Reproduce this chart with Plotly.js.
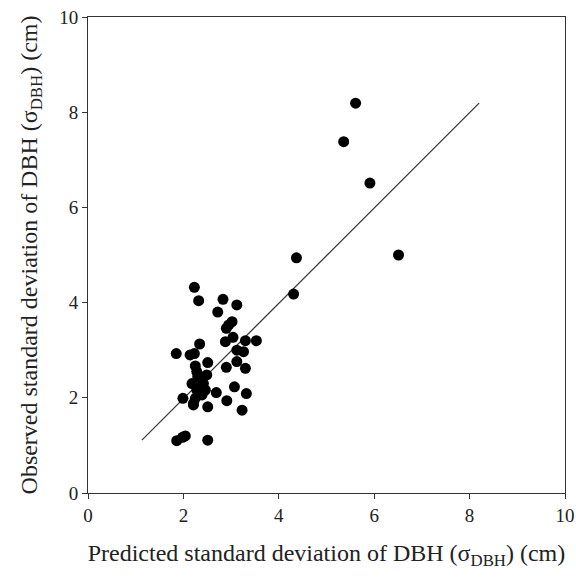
<!DOCTYPE html>
<html>
<head>
<meta charset="utf-8">
<script src="https://cdn.plot.ly/plotly-3.0.1.min.js"></script>
<style>html,body{margin:0;padding:0;background:#fff;}#chart{width:576px;height:579px;}</style>
</head>
<body>
<div id="chart"></div>
<script>
// Predicted vs observed standard deviation of DBH (cm)
const predicted = [5.61,5.36,5.91,6.51,4.37,4.31,
  2.23,2.32,2.83,3.12,2.72,3.02,2.95,2.90,2.34,2.88,3.04,3.30,3.53,3.12,3.26,
  1.85,2.14,2.23,2.51,2.25,2.90,3.12,3.30,
  2.28,2.49,2.39,2.18,2.42,2.28,2.46,2.39,2.25,2.21,2.30,2.33,
  1.99,2.69,3.07,3.32,2.91,2.51,3.23,2.21,
  1.86,2.04,1.98,2.51];
const observed = [8.19,7.38,6.51,5.00,4.94,4.18,
  4.32,4.04,4.07,3.95,3.80,3.60,3.53,3.46,3.13,3.18,3.27,3.20,3.20,3.00,2.97,
  2.93,2.90,2.93,2.74,2.67,2.64,2.76,2.62,
  2.55,2.48,2.41,2.30,2.30,2.16,2.16,2.06,1.99,1.88,2.45,2.22,
  1.99,2.11,2.23,2.09,1.94,1.81,1.74,1.85,
  1.10,1.20,1.17,1.11];
const fitX = [1.13, 8.20];
const fitY = [1.11, 8.19];
const xTicks = [0,2,4,6,8,10];
const yTicks = [0,2,4,6,8,10];

const font = "'Liberation Serif','Times New Roman',serif";
Plotly.newPlot('chart', [
  {x: fitX, y: fitY, mode:'lines', type:'scatter', line:{color:'#333', width:1.2}, hoverinfo:'skip', showlegend:false},
  {x: predicted, y: observed, mode:'markers', type:'scatter', marker:{color:'#000', size:11}, showlegend:false}
], {
  width:576, height:579,
  margin:{l:88, r:11, t:17, b:86},
  paper_bgcolor:'#fff', plot_bgcolor:'#fff',
  font:{family:font, size:19, color:'#222'},
  xaxis:{range:[0,10], tickvals:xTicks, ticktext:xTicks.map(String), showgrid:false, zeroline:false,
    showline:true, linecolor:'#333', linewidth:1, mirror:true, ticks:'outside', ticklen:5, tickcolor:'#333',
    tickfont:{family:font, size:19, color:'#222'},
    title:{text:'Predicted standard deviation of DBH (σ<sub>DBH</sub>) (cm)', font:{family:font, size:24, color:'#222'}, standoff:19}},
  yaxis:{range:[0,10], tickvals:yTicks, ticktext:yTicks.map(String), showgrid:false, zeroline:false,
    showline:true, linecolor:'#333', linewidth:1, mirror:true, ticks:'outside', ticklen:5, tickcolor:'#333',
    tickfont:{family:font, size:19, color:'#222'},
    title:{text:'Observed standard deviation of DBH (σ<sub>DBH</sub>) (cm)', font:{family:font, size:24, color:'#222'}, standoff:14}}
}, {displayModeBar:false, staticPlot:true});
</script>
</body>
</html>
